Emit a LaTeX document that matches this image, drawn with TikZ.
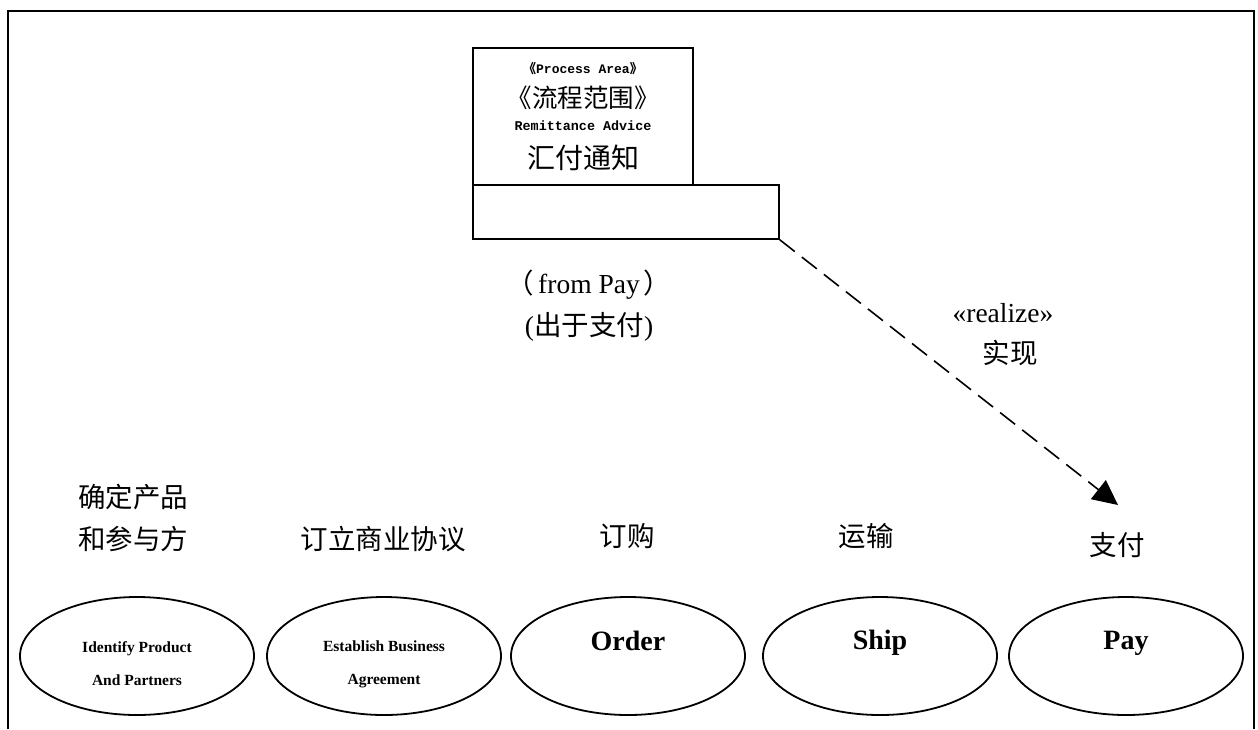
\documentclass[tikz,border=0pt]{standalone}
\usepackage{fontspec}
\setmainfont{Liberation Serif}
\newfontfamily\cjk{Noto Sans CJK SC}
\newfontfamily\monofnt{Liberation Mono}
\usetikzlibrary{arrows.meta,shapes.geometric}
\tikzset{
  frame/.style={line width=1.6pt},
  pkgbox/.style={draw,line width=1.6pt,inner sep=0pt},
  usecase/.style={draw,ellipse,line width=1.8pt,minimum width=234pt,minimum height=118pt,inner sep=0pt},
  uctext/.style={font=\bfseries\fontsize{15.5}{33}\selectfont,align=center,inner sep=0pt},
  ucbig/.style={font=\bfseries\fontsize{28}{30}\selectfont,inner sep=0pt},
  zh/.style={font=\fontsize{27.5}{42}\selectfont\cjk,align=center,inner sep=0pt},
  en/.style={font=\fontsize{27.5}{30}\selectfont,inner sep=0pt},
  monob/.style={font=\fontsize{13.4}{16}\selectfont\monofnt\bfseries,inner sep=0pt},
  realize/.style={line width=1.6pt,dash pattern=on 19pt off 9pt,-{Triangle[length=25pt,width=24pt]}}
}
\begin{document}
\begin{tikzpicture}[x=1pt,y=-1pt]
\useasboundingbox (0,0) rectangle (1258,729);
\draw[frame] (8,729) -- (8,11) -- (1254,11) -- (1254,729);

\node[pkgbox,minimum width=220pt,minimum height=137pt] (tab) at (583,116.5) {};
\node[pkgbox,minimum width=306pt,minimum height=54pt] (body) at (626,212) {};
\node[monob,font=\fontsize{13}{15}\selectfont\monofnt\bfseries] (stereo) at (583,69) {{\cjk 《}Process Area{\cjk 》}};
\node[zh,font=\fontsize{25.5}{30}\selectfont\cjk] (stereozh) at (583,98) {《流程范围》};
\node[monob] (name) at (583,126) {Remittance Advice};
\node[zh,font=\fontsize{28}{30}\selectfont\cjk] (namezh) at (583,158) {汇付通知};

\node[en] (frompay) at (589,285) {{\cjk （}\hspace{4pt}from Pay\hspace{4pt}{\cjk ）}};
\node[en] (frompayzh) at (589,327) {({\cjk 出于支付})};

\node[en] (realizelbl) at (1003,313) {«realize»};
\node[zh] (realizezh) at (1010,353) {实现};
\coordinate (tip) at (1118,505);
\draw[realize] (body.south east) -- (tip);

\node[zh] (identzh) at (133,518) {确定产品\\和参与方};
\node[zh] (agreezh) at (383,539) {订立商业协议};
\node[zh] (orderzh) at (627,536) {订购};
\node[zh] (shipzh) at (866,536) {运输};
\node[zh] (payzh) at (1117,545) {支付};

\node[usecase] (ident) at (137,656) {};
\node[usecase] (agree) at (384,656) {};
\node[usecase] (order) at (628,656) {};
\node[usecase] (ship) at (880,656) {};
\node[usecase] (pay) at (1126,656) {};
\node[uctext] (identtxt) at (137,664) {Identify Product\\And Partners};
\node[uctext] (agreetxt) at (384,664) {Establish Business\\Agreement};
\node[ucbig] (ordertxt) at (628,641) {Order};
\node[ucbig] (shiptxt) at (880,643) {Ship};
\node[ucbig] (paytxt) at (1126,643) {Pay};
\end{tikzpicture}
\end{document}
